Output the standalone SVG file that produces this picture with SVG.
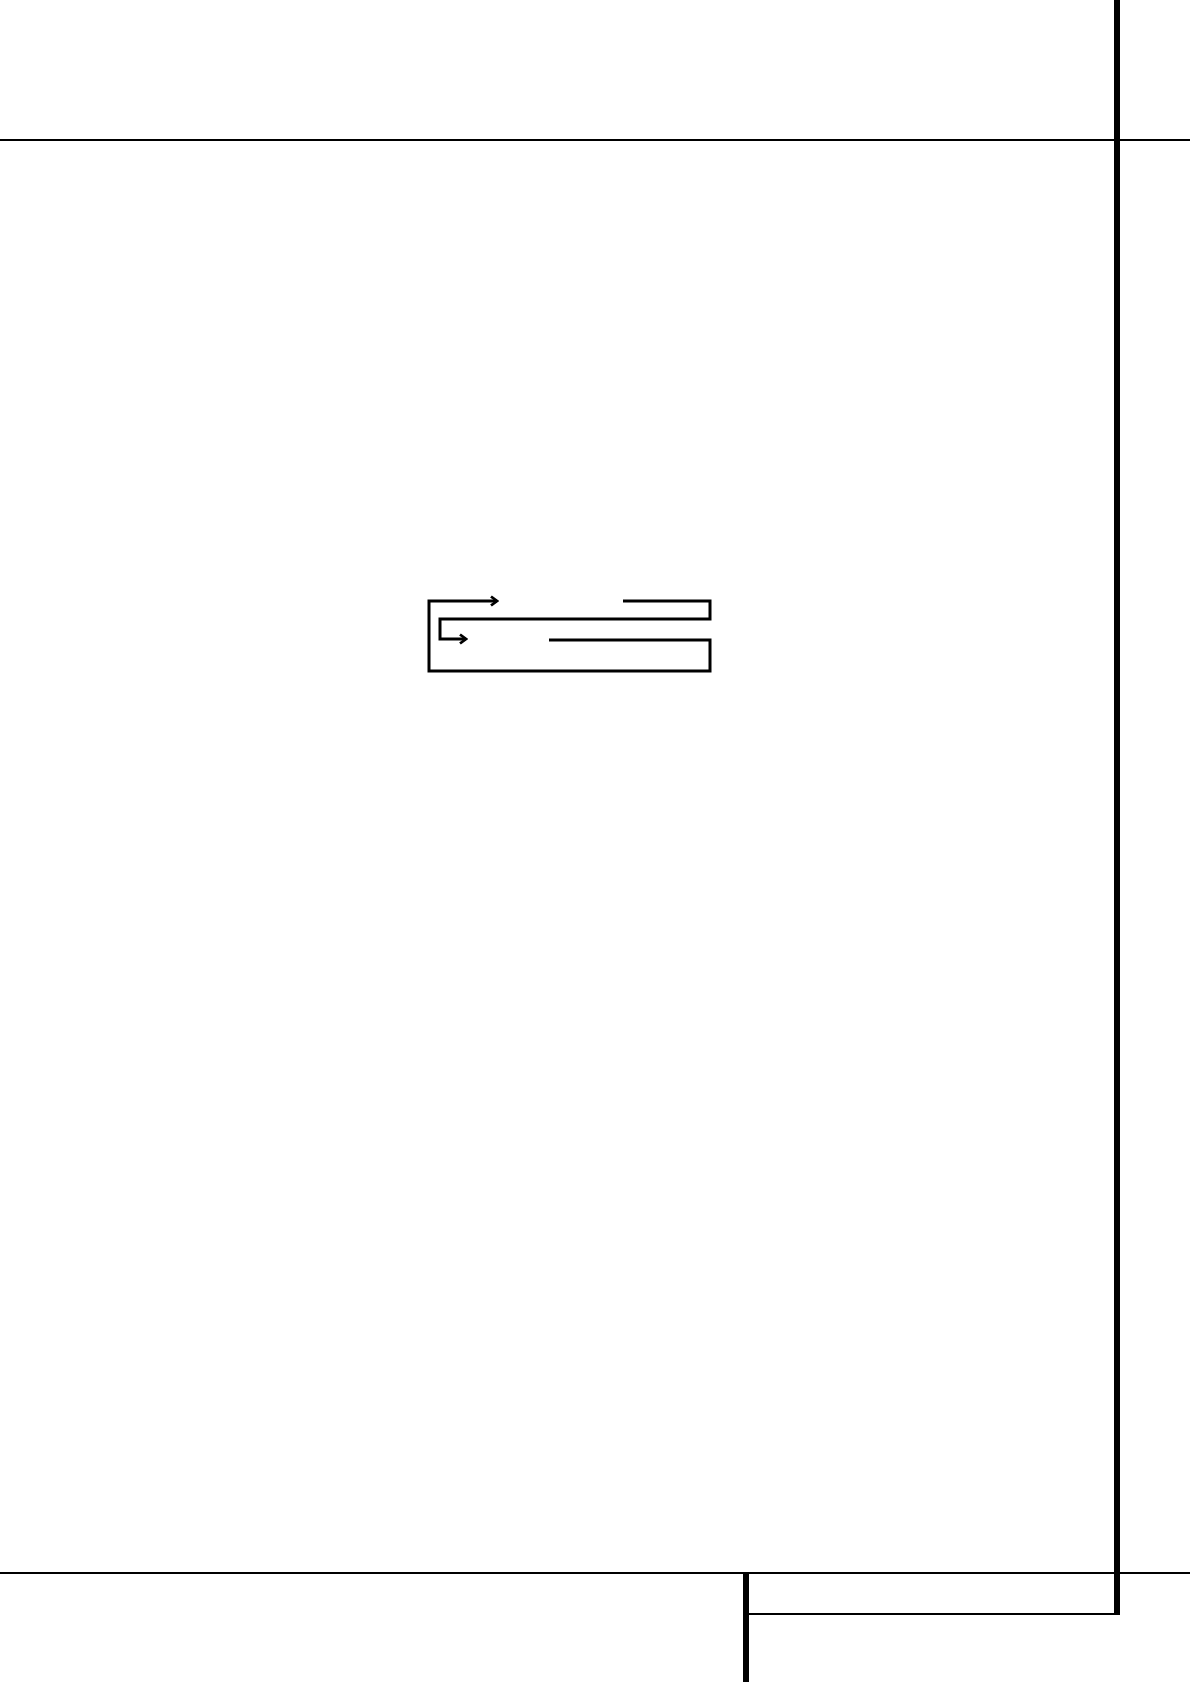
<svg xmlns="http://www.w3.org/2000/svg" width="1190" height="1682" viewBox="0 0 1190 1682">
<style>
.rule{stroke:#000;stroke-width:2;fill:none}
.bar{stroke:#000;stroke-width:6;fill:none}
.flow{stroke:#000;stroke-width:3;fill:none;stroke-linejoin:miter}
</style>
<defs>
<marker id="chev" viewBox="0 0 12 12" refX="10" refY="6" markerWidth="12" markerHeight="12" markerUnits="userSpaceOnUse" orient="auto">
<path d="M4,1.5 L10,6 L4,10.5" fill="none" stroke="#000" stroke-width="2.8"/>
</marker>
</defs>
<rect width="1190" height="1682" fill="#fff"/>
<g id="frame">
<line class="rule" x1="0" y1="140" x2="1190" y2="140"/>
<line class="rule" x1="0" y1="1573" x2="1190" y2="1573"/>
<line class="bar" x1="1117" y1="0" x2="1117" y2="1614"/>
<line class="bar" x1="746" y1="1573" x2="746" y2="1682"/>
<line class="rule" x1="749" y1="1614" x2="1120" y2="1614"/>
</g>
<g id="connectors">
<path class="flow" d="M549,640 L710,640 L710,671 L429,671 L429,601 L497,601" marker-end="url(#chev)"/>
<path class="flow" d="M623,601 L710,601 L710,619 L440,619 L440,639 L466,639" marker-end="url(#chev)"/>
</g>
</svg>
